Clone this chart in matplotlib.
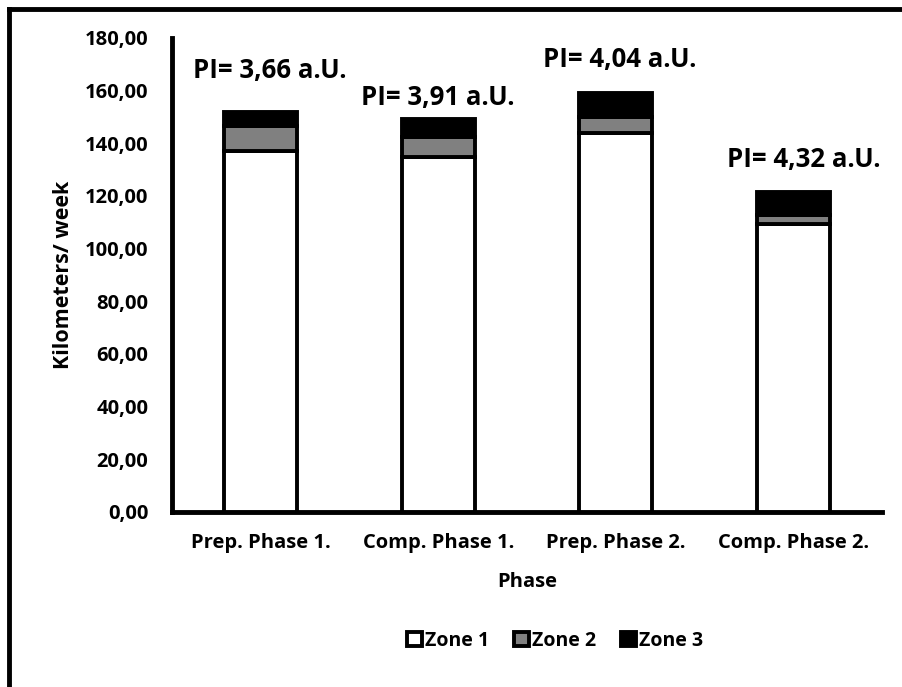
import matplotlib
matplotlib.use("Agg")
import matplotlib.pyplot as plt
from matplotlib.lines import Line2D
from matplotlib.ticker import FuncFormatter
import numpy as np

categories = ["Prep. Phase 1.", "Comp. Phase 1.", "Prep. Phase 2.", "Comp. Phase 2."]
zone1 = [137.0, 135.0, 144.0, 109.5]
zone2 = [9.5, 7.3, 6.0, 3.2]
zone3 = [5.5, 7.0, 9.2, 9.0]
pi_labels = ["PI= 3,66 a.U.", "PI= 3,91 a.U.", "PI= 4,04 a.U.", "PI= 4,32 a.U."]
pi_x_offset = [0.05, 0.0, 0.02, 0.06]
pi_y = [167.5, 157.4, 171.7, 133.9]

FONT = "Open Sans"
plt.rcParams['font.family'] = [FONT, 'DejaVu Sans']
plt.rcParams['font.weight'] = 'bold'

fig = plt.figure(figsize=(9.02, 6.87), dpi=100)
ax = fig.add_axes([172/902, 1-512/687, (882-172)/902, (512-38)/687])

x = np.arange(len(categories))
w = 0.41
lw = 2.8
b1 = ax.bar(x, zone1, w, color="white", edgecolor="black", linewidth=lw, label="Zone 1", zorder=3)
b2 = ax.bar(x, zone2, w, bottom=zone1, color="#808080", edgecolor="black", linewidth=lw, label="Zone 2", zorder=3)
bot3 = [a + b for a, b in zip(zone1, zone2)]
b3 = ax.bar(x, zone3, w, bottom=bot3, color="black", edgecolor="black", linewidth=lw, label="Zone 3", zorder=3)

for i, t in enumerate(pi_labels):
    ax.text(x[i] + pi_x_offset[i], pi_y[i], t, ha="center", va="center",
            fontsize=18.5, fontweight="bold")

ax.set_xlim(-0.5, 3.5)
ax.set_ylim(0, 180)
ax.set_yticks(np.arange(0, 181, 20))
ax.yaxis.set_major_formatter(FuncFormatter(lambda v, p: f"{v:.2f}".replace(".", ",")))
ax.set_xticks(x)
ax.set_xticklabels(categories)
ax.tick_params(axis="x", length=0, labelsize=14.5, pad=15)
ax.tick_params(axis="y", length=0, labelsize=14.5, pad=17)
for lab in ax.get_xticklabels() + ax.get_yticklabels():
    lab.set_fontweight("bold")

for s in ["top", "right"]:
    ax.spines[s].set_visible(False)
ax.spines["left"].set_linewidth(3.5)
ax.spines["bottom"].set_linewidth(3.5)

ax.set_ylabel("Kilometers/ week", fontsize=15.5, fontweight="bold", labelpad=8)
ax.set_xlabel("Phase", fontsize=14.5, fontweight="bold", labelpad=14)

leg = fig.legend(handles=[b1, b2, b3], loc="center", bbox_to_anchor=(555/902, 1-641/687),
                 ncol=3, frameon=False, fontsize=14, handlelength=0.75, handleheight=0.75,
                 handletextpad=0.15, columnspacing=1.3)
for t in leg.get_texts():
    t.set_fontweight("bold")

# outer frame (top and left edges visible)
ytop = 1 - 8.5/687
xleft = 9/902
fig.add_artist(Line2D([xleft, 1.0], [ytop, ytop], transform=fig.transFigure, color="black", linewidth=3.5))
fig.add_artist(Line2D([xleft, xleft], [0.0, ytop], transform=fig.transFigure, color="black", linewidth=3.5))

fig.savefig("out.png", dpi=100)
